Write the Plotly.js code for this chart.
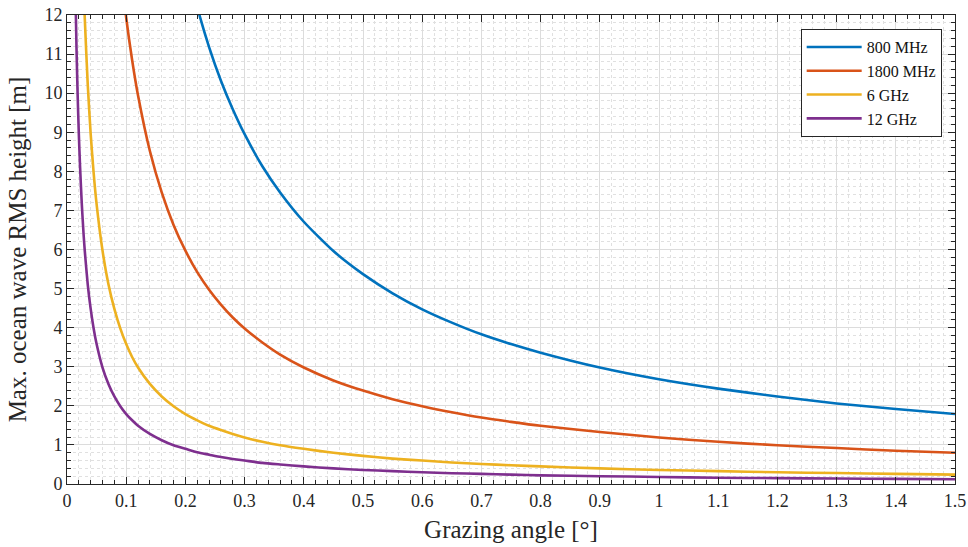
<!DOCTYPE html>
<html>
<head>
<meta charset="utf-8">
<script src="https://cdn.plot.ly/plotly-3.0.1.min.js"></script>
<style>html,body{margin:0;padding:0;background:#fff;}#chart{width:968px;height:547px;}</style>
</head>
<body>
<div id="chart"></div>
<script>
const angles = [0.012,0.014,0.016,0.018,0.02,0.022,0.025,0.028,0.03,0.035,0.04,0.045,0.05,0.06,0.07,0.08,0.09,0.1,0.11,0.12,0.14,0.16,0.18,0.2,0.22,0.24,0.26,0.28,0.3,0.33,0.36,0.4,0.45,0.5,0.55,0.6,0.65,0.7,0.75,0.8,0.9,1.0,1.1,1.2,1.3,1.4,1.5];
const h800  = [null,null,null,null,null,null,null,null,null,null,null,null,null,null,null,null,null,null,null,null,null,null,null,13.42,12.2,11.18,10.32,9.59,8.95,8.13,7.46,6.71,5.96,5.37,4.88,4.47,4.13,3.83,3.58,3.36,2.98,2.68,2.44,2.24,2.06,1.92,1.79];
const h1800 = [null,null,null,null,null,null,null,null,null,null,null,null,null,null,null,null,13.3,11.93,10.85,9.94,8.52,7.46,6.63,5.97,5.42,4.97,4.59,4.26,3.98,3.62,3.31,2.98,2.65,2.39,2.17,1.99,1.835,1.70,1.59,1.49,1.33,1.19,1.08,0.99,0.92,0.85,0.80];
const h6g   = [null,null,null,null,null,null,null,12.79,11.93,10.23,8.95,7.96,7.16,5.97,5.11,4.48,3.98,3.58,3.25,2.98,2.56,2.24,1.99,1.79,1.63,1.49,1.38,1.28,1.19,1.08,0.99,0.90,0.80,0.72,0.65,0.60,0.55,0.51,0.48,0.45,0.40,0.36,0.33,0.30,0.28,0.26,0.24];
const h12g  = [null,12.79,11.19,9.94,8.95,8.14,7.16,6.39,5.97,5.11,4.48,3.98,3.58,2.98,2.56,2.24,1.99,1.79,1.63,1.49,1.28,1.12,0.99,0.90,0.81,0.75,0.69,0.64,0.60,0.54,0.50,0.45,0.40,0.36,0.33,0.30,0.275,0.26,0.24,0.22,0.20,0.18,0.16,0.15,0.14,0.13,0.12];
const seriesNames = ["800 MHz","1800 MHz","6 GHz","12 GHz"];
const seriesColors = ["#0072BD","#D95319","#EDB120","#7E2F8E"];
const seriesData = [h800,h1800,h6g,h12g];

const traces = seriesData.map((ys,i)=>({
  x: angles, y: ys, type:'scatter', mode:'lines', name: seriesNames[i],
  line:{color:seriesColors[i], width:2.6, shape:'spline', smoothing:0.6},
  connectgaps:false
}));

const FF = "Liberation Serif";
const AX = '#262626';
function axis(extra){
  return Object.assign({
    showline:true, mirror:'ticks', linecolor:AX, linewidth:1,
    ticks:'inside', ticklen:7, tickcolor:AX, tickwidth:1,
    showgrid:true, gridcolor:'#dcdcdc', gridwidth:1,
    zeroline:false,
    tickfont:{family:FF, size:18, color:AX}
  }, extra);
}

const layout = {
  width:968, height:547,
  font:{family:FF, size:18, color:AX},
  margin:{l:67, r:13, t:15, b:63},
  paper_bgcolor:'#fff', plot_bgcolor:'#fff',
  showlegend:true,
  legend:{x:0.985, y:0.97, xanchor:'right', yanchor:'top', bgcolor:'#fff',
          bordercolor:AX, borderwidth:1, itemwidth:55,
          font:{family:FF, size:16, color:'#111'}, tracegroupgap:0},
  xaxis: axis({
    range:[0,1.5], dtick:0.1, tick0:0,
    title:{text:'Grazing angle [°]', font:{family:FF, size:25, color:AX}, standoff:10},
    minor:{dtick:0.02, ticks:'inside', ticklen:4, tickcolor:AX, showgrid:true, gridcolor:'#e0e0e0', griddash:'dot', gridwidth:1}
  }),
  yaxis: axis({
    range:[0,12], dtick:1, tick0:0,
    title:{text:'Max. ocean wave RMS height [m]', font:{family:FF, size:25, color:AX}, standoff:10},
    minor:{dtick:0.2, ticks:'inside', ticklen:4, tickcolor:AX, showgrid:true, gridcolor:'#e0e0e0', griddash:'dot', gridwidth:1}
  })
};

Plotly.newPlot('chart', traces, layout, {displayModeBar:false, staticPlot:true});
</script>
</body>
</html>
